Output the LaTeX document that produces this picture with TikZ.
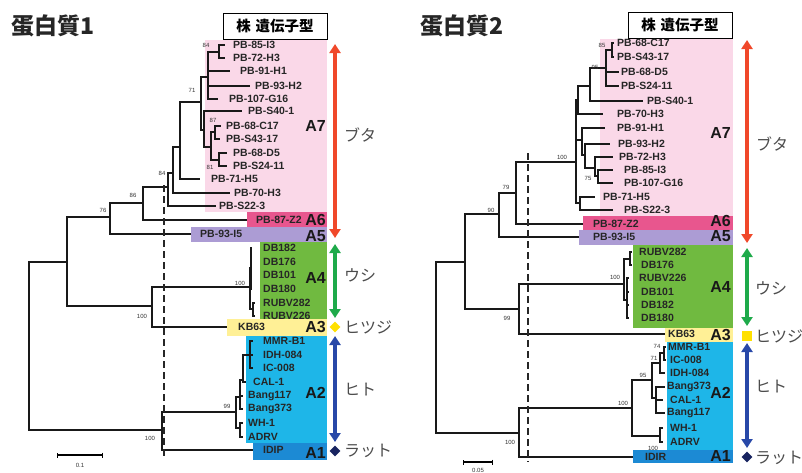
\documentclass[tikz,border=0pt]{standalone}
\usepackage{fontspec}
\setsansfont{Liberation Sans}
\newfontfamily\cjk{Noto Sans CJK JP}
\usetikzlibrary{arrows.meta,shapes.geometric}
\definecolor{bandAseven}{RGB}{250,216,232}
\definecolor{bandAsix}{RGB}{232,86,142}
\definecolor{bandAfive}{RGB}{172,156,212}
\definecolor{bandAfour}{RGB}{112,186,64}
\definecolor{bandAthree}{RGB}{255,240,150}
\definecolor{bandAtwo}{RGB}{30,182,232}
\definecolor{bandAone}{RGB}{28,138,212}
\definecolor{pigred}{RGB}{240,72,42}
\definecolor{cowgreen}{RGB}{30,170,74}
\definecolor{sheepyellow}{RGB}{255,224,0}
\definecolor{humanblue}{RGB}{40,72,168}
\definecolor{ratnavy}{RGB}{24,36,96}
\tikzset{
  branch/.style={line width=1.6pt, black!90},
  leaf/.style={font=\sffamily\bfseries\fontsize{10.5}{11}\selectfont, text=black!85, inner sep=0pt, anchor=west},
  boot/.style={font=\sffamily\fontsize{6}{6}\selectfont, text=black!80, inner sep=0pt},
  clade/.style={font=\sffamily\bfseries\fontsize{16}{16}\selectfont, text=black!90, inner sep=0pt, anchor=east},
  host/.style={font=\cjk\fontsize{16}{16}\selectfont, text=black!70, inner sep=0pt, anchor=west},
  hostarrow/.style={line width=3.5pt, arrows={Triangle[width=11pt,length=9pt]-Triangle[width=11pt,length=9pt]}},
  cutoff/.style={line width=1.5pt, black!85, dash pattern=on 7pt off 4pt},
  scalebar/.style={line width=1.2pt, arrows={Bar[width=5pt]-Bar[width=5pt]}},
  title/.style={font=\cjk\bfseries\fontsize{23}{23}\selectfont, text=black!85, inner sep=0pt},
  keybox/.style={draw, line width=0.8pt, fill=white, font=\cjk\bfseries\fontsize{14.5}{15}\selectfont, minimum width=104pt, minimum height=26pt, inner sep=0pt},
  marker/.style={inner sep=0pt, minimum size=11pt}
}
\begin{document}
\begin{tikzpicture}[x=1pt,y=-1pt]
\useasboundingbox (0,0) rectangle (802,472);

% ---------------- Protein 1 ----------------
\node[title] (ttl1) at (53,26) {蛋白質1};
\node[keybox] (key1) at (275,26) {株\hspace{5pt}遺伝子型};

% Genotype bands
\fill[bandAseven] (205,40) rectangle (327,212);
\fill[bandAsix] (247,212) rectangle (327,227);
\fill[bandAfive] (191,227) rectangle (327,242);
\fill[bandAfour] (260,242) rectangle (327,319);
\fill[bandAthree] (227,319) rectangle (327,336);
\fill[bandAtwo] (246,336) rectangle (327,443);
\fill[bandAone] (253,443) rectangle (327,460);
\node[clade] (Lc7) at (326,126) {A7};
\node[clade] (Lc6) at (326,220) {A6};
\node[clade] (Lc5) at (326,236) {A5};
\node[clade] (Lc4) at (326,278) {A4};
\node[clade] (Lc3) at (326,327) {A3};
\node[clade] (Lc2) at (326,393) {A2};
\node[clade] (Lc1) at (326,453) {A1};

% Strains
\coordinate (L1) at (225,45); \node[leaf] (L1t) at (233,45) {PB-85-I3};
\coordinate (L2) at (225,58); \node[leaf] (L2t) at (233,58) {PB-72-H3};
\coordinate (L3) at (230,71); \node[leaf] (L3t) at (240,71) {PB-91-H1};
\coordinate (L4) at (250,86); \node[leaf] (L4t) at (255,86) {PB-93-H2};
\coordinate (L5) at (218,99); \node[leaf] (L5t) at (229,99) {PB-107-G16};
\coordinate (L6) at (242,111); \node[leaf] (L6t) at (248,111) {PB-S40-1};
\coordinate (L7) at (221,126); \node[leaf] (L7t) at (226,126) {PB-68-C17};
\coordinate (L8) at (220,139); \node[leaf] (L8t) at (226,139) {PB-S43-17};
\coordinate (L9) at (227,153); \node[leaf] (L9t) at (233,153) {PB-68-D5};
\coordinate (L10) at (227,166); \node[leaf] (L10t) at (233,166) {PB-S24-11};
\coordinate (L11) at (200,179); \node[leaf] (L11t) at (211,179) {PB-71-H5};
\coordinate (L12) at (230,193); \node[leaf] (L12t) at (234,193) {PB-70-H3};
\coordinate (L13) at (216,206); \node[leaf] (L13t) at (219,206) {PB-S22-3};
\coordinate (L14) at (247,220); \node[leaf] (L14t) at (256,220) {PB-87-Z2};
\coordinate (L15) at (191,234); \node[leaf] (L15t) at (200,234) {PB-93-I5};
\coordinate (L16) at (252,248); \node[leaf] (L16t) at (263,248) {DB182};
\coordinate (L17) at (252,262); \node[leaf] (L17t) at (263,262) {DB176};
\coordinate (L18) at (252,275); \node[leaf] (L18t) at (263,275) {DB101};
\coordinate (L19) at (252,289); \node[leaf] (L19t) at (263,289) {DB180};
\coordinate (L20) at (255,303); \node[leaf] (L20t) at (263,303) {RUBV282};
\coordinate (L21) at (255,316); \node[leaf] (L21t) at (263,316) {RUBV226};
\coordinate (L22) at (227,327); \node[leaf] (L22t) at (238,327) {KB63};
\coordinate (L23) at (253,341); \node[leaf] (L23t) at (263,341) {MMR-B1};
\coordinate (L24) at (253,355); \node[leaf] (L24t) at (263,355) {IDH-084};
\coordinate (L25) at (253,368); \node[leaf] (L25t) at (263,368) {IC-008};
\coordinate (L26) at (246,382); \node[leaf] (L26t) at (253,382) {CAL-1};
\coordinate (L27) at (243,396); \node[leaf] (L27t) at (248,396) {Bang117};
\coordinate (L28) at (243,409); \node[leaf] (L28t) at (248,409) {Bang373};
\coordinate (L29) at (243,423); \node[leaf] (L29t) at (248,423) {WH-1};
\coordinate (L30) at (243,437); \node[leaf] (L30t) at (248,437) {ADRV};
\coordinate (L31) at (253,450); \node[leaf] (L31t) at (263,450) {IDIP};

% Tree
\coordinate (Lr) at (29,346);
\coordinate (Ln1) at (67,262);
\coordinate (Ln76) at (110,217);
\coordinate (Ln86) at (143,203);
\coordinate (Ln84) at (168,187);
\coordinate (Ln2) at (173,173);
\coordinate (Ln6) at (180,147);
\coordinate (Ln71) at (201,102);
\coordinate (Ln4) at (208,77);
\coordinate (Ln84b) at (219,52);
\coordinate (Ln5) at (204,130);
\coordinate (Ln7) at (211,147);
\coordinate (Ln87) at (215,132);
\coordinate (Ln81) at (219,160);
\coordinate (Lna) at (152,306);
\coordinate (Ln4a) at (250,287);
\coordinate (Ln8) at (251,268);
\coordinate (Ln9) at (253,309);
\coordinate (Lnb) at (162,430);
\coordinate (Ln99) at (236,412);
\coordinate (Ln10) at (240,397);
\coordinate (Ln11) at (240,428);
\coordinate (Ln12) at (243,380);
\coordinate (Ln13) at (250,355);
\draw[branch] (Lr) |- (Ln1) (Lr) |- (Lnb);
\draw[branch] (Ln1) |- (Ln76) (Ln1) |- (Lna);
\draw[branch] (Ln76) |- (Ln86) (Ln76) |- (L15);
\draw[branch] (Ln86) |- (Ln84) (Ln86) |- (L14);
\draw[branch] (Ln84) |- (Ln2) (Ln84) |- (L13);
\draw[branch] (Ln2) |- (Ln6) (Ln2) |- (L12);
\draw[branch] (Ln6) |- (Ln71) (Ln6) |- (L11);
\draw[branch] (Ln71) |- (Ln4) (Ln71) |- (Ln5);
\draw[branch] (Ln4) |- (Ln84b) (Ln4) |- (L3) (Ln4) |- (L4) (Ln4) |- (L5);
\draw[branch] (Ln84b) |- (L1) (Ln84b) |- (L2);
\draw[branch] (Ln5) |- (L6) (Ln5) |- (Ln7);
\draw[branch] (Ln7) |- (Ln87) (Ln7) |- (Ln81);
\draw[branch] (Ln87) |- (L7) (Ln87) |- (L8);
\draw[branch] (Ln81) |- (L9) (Ln81) |- (L10);
\draw[branch] (Lna) |- (Ln4a) (Lna) |- (L22);
\draw[branch] (Ln4a) |- (Ln8) (Ln4a) |- (Ln9);
\draw[branch] (Ln8) |- (L16) (Ln8) |- (L17) (Ln8) |- (L18) (Ln8) |- (L19);
\draw[branch] (Ln9) |- (L20) (Ln9) |- (L21);
\draw[branch] (Lnb) |- (Ln99) (Lnb) |- (L31);
\draw[branch] (Ln99) |- (Ln10) (Ln99) |- (Ln11);
\draw[branch] (Ln10) |- (Ln12) (Ln10) |- (L27) (Ln10) |- (L28);
\draw[branch] (Ln12) |- (Ln13) (Ln12) |- (L26);
\draw[branch] (Ln13) |- (L23) (Ln13) |- (L24) (Ln13) |- (L25);
\draw[branch] (Ln11) |- (L29) (Ln11) |- (L30);

% Bootstrap values
\node[boot] (Lb1) at (206,45) {84};
\node[boot] (Lb2) at (192,90) {71};
\node[boot] (Lb3) at (213,120) {87};
\node[boot] (Lb4) at (210,167) {81};
\node[boot] (Lb5) at (162,173) {84};
\node[boot] (Lb6) at (133,195) {86};
\node[boot] (Lb7) at (103,210) {76};
\node[boot] (Lb8) at (240,283) {100};
\node[boot] (Lb9) at (142,316) {100};
\node[boot] (Lb10) at (227,406) {99};
\node[boot] (Lb11) at (150,438) {100};

% Cut-off line and scale
\coordinate (Lcut1) at (164,185);
\coordinate (Lcut2) at (164,457);
\draw[cutoff] (Lcut1) -- (Lcut2);
\coordinate (Ls1) at (57,455);
\coordinate (Ls2) at (103,455);
\draw[scalebar] (Ls1) -- (Ls2);
\node[boot] (Lsl) at (80,465) {0.1};

% Hosts
\coordinate (Lpig1) at (335,44);
\coordinate (Lpig2) at (335,238);
\draw[hostarrow, pigred] (Lpig1) -- (Lpig2);
\coordinate (Lcow1) at (335,244);
\coordinate (Lcow2) at (335,318);
\draw[hostarrow, cowgreen] (Lcow1) -- (Lcow2);
\node[marker, diamond, fill=sheepyellow] (Lsheep) at (335,327) {};
\coordinate (Lhum1) at (335,336);
\coordinate (Lhum2) at (335,442);
\draw[hostarrow, humanblue] (Lhum1) -- (Lhum2);
\node[marker, diamond, fill=ratnavy] (Lrat) at (335,451) {};
\node[host] (Lh1) at (344,135) {ブタ};
\node[host] (Lh2) at (344,275) {ウシ};
\node[host] (Lh3) at (344,327) {ヒツジ};
\node[host] (Lh4) at (344,390) {ヒト};
\node[host] (Lh5) at (344,451) {ラット};

% ---------------- Protein 2 ----------------
\node[title] (ttl2) at (462,26) {蛋白質2};
\node[keybox] (key2) at (680,25) {株\hspace{5pt}遺伝子型};

% Genotype bands
\fill[bandAseven] (600,39) rectangle (733,216);
\fill[bandAsix] (583,216) rectangle (733,230);
\fill[bandAfive] (579,230) rectangle (733,245);
\fill[bandAfour] (633,245) rectangle (733,328);
\fill[bandAthree] (665,328) rectangle (733,342);
\fill[bandAtwo] (667,342) rectangle (733,450);
\fill[bandAone] (633,450) rectangle (733,463);
\node[clade] (Rc7) at (731,133) {A7};
\node[clade] (Rc6) at (731,221) {A6};
\node[clade] (Rc5) at (731,236) {A5};
\node[clade] (Rc4) at (731,287) {A4};
\node[clade] (Rc3) at (731,335) {A3};
\node[clade] (Rc2) at (731,393) {A2};
\node[clade] (Rc1) at (731,456) {A1};

% Strains
\coordinate (R1) at (614,43); \node[leaf] (R1t) at (617,43) {PB-68-C17};
\coordinate (R2) at (614,57); \node[leaf] (R2t) at (617,57) {PB-S43-17};
\coordinate (R3) at (619,72); \node[leaf] (R3t) at (621,72) {PB-68-D5};
\coordinate (R4) at (619,86); \node[leaf] (R4t) at (621,86) {PB-S24-11};
\coordinate (R5) at (643,101); \node[leaf] (R5t) at (647,101) {PB-S40-1};
\coordinate (R6) at (603,114); \node[leaf] (R6t) at (617,114) {PB-70-H3};
\coordinate (R7) at (605,128); \node[leaf] (R7t) at (617,128) {PB-91-H1};
\coordinate (R8) at (610,144); \node[leaf] (R8t) at (618,144) {PB-93-H2};
\coordinate (R9) at (613,157); \node[leaf] (R9t) at (619,157) {PB-72-H3};
\coordinate (R10) at (613,170); \node[leaf] (R10t) at (624,170) {PB-85-I3};
\coordinate (R11) at (613,183); \node[leaf] (R11t) at (624,183) {PB-107-G16};
\coordinate (R12) at (595,197); \node[leaf] (R12t) at (603,197) {PB-71-H5};
\coordinate (R13) at (613,210); \node[leaf] (R13t) at (624,210) {PB-S22-3};
\coordinate (R14) at (583,224); \node[leaf] (R14t) at (593,224) {PB-87-Z2};
\coordinate (R15) at (579,237); \node[leaf] (R15t) at (593,237) {PB-93-I5};
\coordinate (R16) at (632,252); \node[leaf] (R16t) at (639,252) {RUBV282};
\coordinate (R17) at (632,265); \node[leaf] (R17t) at (641,265) {DB176};
\coordinate (R18) at (629,278); \node[leaf] (R18t) at (639,278) {RUBV226};
\coordinate (R19) at (629,292); \node[leaf] (R19t) at (641,292) {DB101};
\coordinate (R20) at (629,305); \node[leaf] (R20t) at (641,305) {DB182};
\coordinate (R21) at (629,318); \node[leaf] (R21t) at (641,318) {DB180};
\coordinate (R22) at (665,334); \node[leaf] (R22t) at (668,334) {KB63};
\coordinate (R23) at (666,347); \node[leaf] (R23t) at (668,347) {MMR-B1};
\coordinate (R24) at (666,360); \node[leaf] (R24t) at (670,360) {IC-008};
\coordinate (R25) at (665,373); \node[leaf] (R25t) at (670,373) {IDH-084};
\coordinate (R26) at (665,387); \node[leaf] (R26t) at (667,387) {Bang373};
\coordinate (R27) at (663,400); \node[leaf] (R27t) at (670,400) {CAL-1};
\coordinate (R28) at (665,413); \node[leaf] (R28t) at (667,413) {Bang117};
\coordinate (R29) at (663,428); \node[leaf] (R29t) at (670,428) {WH-1};
\coordinate (R30) at (663,442); \node[leaf] (R30t) at (670,442) {ADRV};
\coordinate (R31) at (633,457); \node[leaf] (R31t) at (645,457) {IDIR};

% Tree
\coordinate (Rr) at (436,348);
\coordinate (RnL) at (465,262);
\coordinate (Rn90) at (499,214);
\coordinate (Rn79) at (516,193);
\coordinate (Rn100) at (576,162);
\coordinate (Rm1) at (578,100);
\coordinate (Rm4) at (590,86);
\coordinate (Rm5) at (606,68);
\coordinate (Rm6) at (612,50);
\coordinate (Rm2) at (582,140);
\coordinate (Rm7) at (585,155);
\coordinate (Rm8) at (595,168);
\coordinate (Rm9) at (598,176);
\coordinate (Rm3) at (580,203);
\coordinate (Rn99) at (519,309);
\coordinate (Rn4) at (624,284);
\coordinate (Rq1) at (630,259);
\coordinate (Rq2) at (627,300);
\coordinate (Rnb) at (519,433);
\coordinate (Rnh) at (632,408);
\coordinate (Rm10) at (652,380);
\coordinate (Rm12) at (660,363);
\coordinate (Rm14) at (664,353);
\coordinate (Rm13) at (656,398);
\coordinate (Rm11) at (660,436);
\draw[branch] (Rr) |- (RnL) (Rr) |- (Rnb);
\draw[branch] (RnL) |- (Rn90) (RnL) |- (Rn99);
\draw[branch] (Rn90) |- (Rn79) (Rn90) |- (R15);
\draw[branch] (Rn79) |- (Rn100) (Rn79) |- (R14);
\draw[branch] (Rn100) |- (Rm1) (Rn100) |- (Rm2) (Rn100) |- (Rm3);
\draw[branch] (Rm1) |- (Rm4) (Rm1) |- (R6);
\draw[branch] (Rm4) |- (Rm5) (Rm4) |- (R5);
\draw[branch] (Rm5) |- (Rm6) (Rm5) |- (R3) (Rm5) |- (R4);
\draw[branch] (Rm6) |- (R1) (Rm6) |- (R2);
\draw[branch] (Rm2) |- (R7) (Rm2) |- (Rm7);
\draw[branch] (Rm7) |- (R8) (Rm7) |- (Rm8);
\draw[branch] (Rm8) |- (R9) (Rm8) |- (Rm9);
\draw[branch] (Rm9) |- (R10) (Rm9) |- (R11);
\draw[branch] (Rm3) |- (R12) (Rm3) |- (R13);
\draw[branch] (Rn99) |- (Rn4) (Rn99) |- (R22);
\draw[branch] (Rn4) |- (Rq1) (Rn4) |- (Rq2);
\draw[branch] (Rq1) |- (R16) (Rq1) |- (R17);
\draw[branch] (Rq2) |- (R18) (Rq2) |- (R19) (Rq2) |- (R20) (Rq2) |- (R21);
\draw[branch] (Rnb) |- (Rnh) (Rnb) |- (R31);
\draw[branch] (Rnh) |- (Rm10) (Rnh) |- (Rm11);
\draw[branch] (Rm10) |- (Rm12) (Rm10) |- (Rm13);
\draw[branch] (Rm12) |- (Rm14) (Rm12) |- (R25);
\draw[branch] (Rm14) |- (R23) (Rm14) |- (R24);
\draw[branch] (Rm13) |- (R26) (Rm13) |- (R27) (Rm13) |- (R28);
\draw[branch] (Rm11) |- (R29) (Rm11) |- (R30);

% Bootstrap values
\node[boot] (Rb1) at (602,45) {85};
\node[boot] (Rb2) at (595,67) {95};
\node[boot] (Rb3) at (562,157) {100};
\node[boot] (Rb4) at (588,178) {75};
\node[boot] (Rb5) at (506,187) {79};
\node[boot] (Rb6) at (491,210) {90};
\node[boot] (Rb7) at (615,277) {100};
\node[boot] (Rb8) at (507,318) {99};
\node[boot] (Rb9) at (657,346) {74};
\node[boot] (Rb10) at (654,358) {71};
\node[boot] (Rb11) at (643,375) {95};
\node[boot] (Rb12) at (623,403) {100};
\node[boot] (Rb13) at (510,442) {100};
\node[boot] (Rb14) at (653,448) {100};

% Cut-off line and scale
\coordinate (Rcut1) at (528,153);
\coordinate (Rcut2) at (528,462);
\draw[cutoff] (Rcut1) -- (Rcut2);
\coordinate (Rs1) at (463,462);
\coordinate (Rs2) at (493,462);
\draw[scalebar] (Rs1) -- (Rs2);
\node[boot] (Rsl) at (478,470) {0.05};

% Hosts
\coordinate (Rpig1) at (747,40);
\coordinate (Rpig2) at (747,243);
\draw[hostarrow, pigred] (Rpig1) -- (Rpig2);
\coordinate (Rcow1) at (747,248);
\coordinate (Rcow2) at (747,326);
\draw[hostarrow, cowgreen] (Rcow1) -- (Rcow2);
\node[marker, minimum size=10pt, fill=sheepyellow] (Rsheep) at (747,336) {};
\coordinate (Rhum1) at (747,343);
\coordinate (Rhum2) at (747,448);
\draw[hostarrow, humanblue] (Rhum1) -- (Rhum2);
\node[marker, diamond, fill=ratnavy] (Rrat) at (747,457) {};
\node[host] (Rh1) at (756,144) {ブタ};
\node[host] (Rh2) at (755,288) {ウシ};
\node[host] (Rh3) at (755,336) {ヒツジ};
\node[host] (Rh4) at (755,387) {ヒト};
\node[host] (Rh5) at (755,458) {ラット};
\end{tikzpicture}
\end{document}
